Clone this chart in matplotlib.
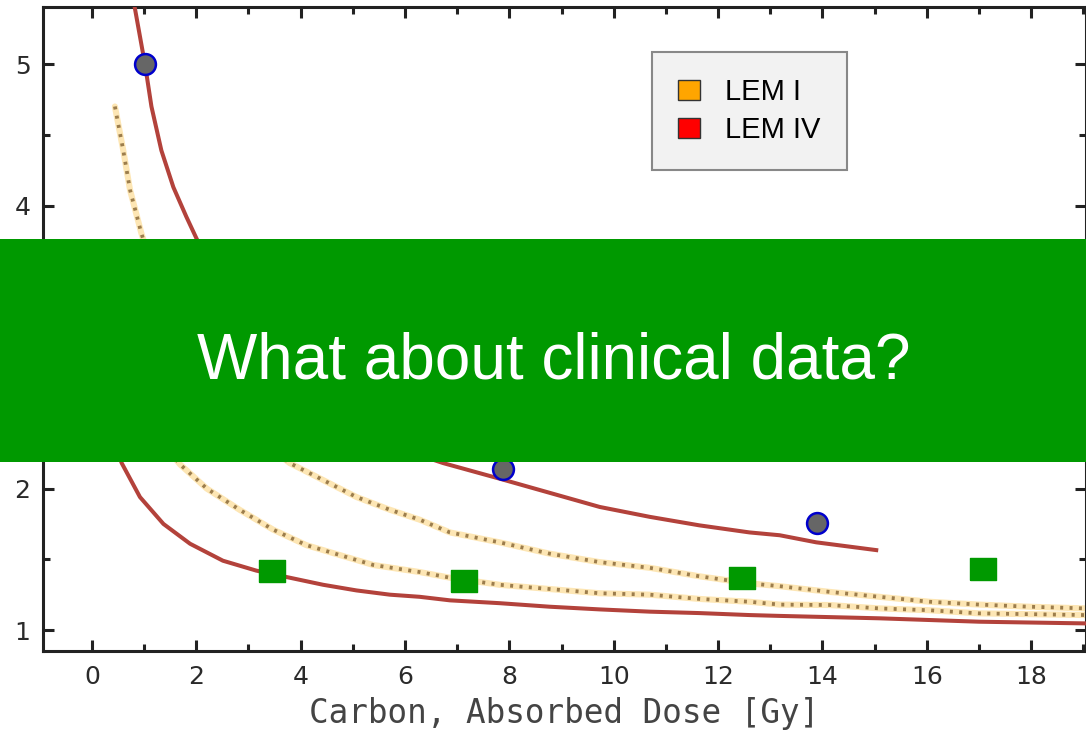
import numpy as np
import matplotlib
matplotlib.use("Agg")
import matplotlib.pyplot as plt
from matplotlib.patches import Patch, Rectangle

# --- Kurven ---
lem4_hi_x = [0.82, 1.02, 1.14, 1.33, 1.56, 1.81, 2.0, 2.5, 3.0, 3.5, 4.0, 4.5, 5.0, 5.5, 6.0,
             6.73, 7.81, 8.77, 9.73, 10.69, 11.64, 12.6, 13.18, 13.88, 15.03]
lem4_hi_y = [5.40, 4.99, 4.70, 4.39, 4.13, 3.92, 3.77, 3.40, 3.12, 2.90, 2.72, 2.57, 2.45, 2.35, 2.27,
             2.18, 2.07, 1.97, 1.87, 1.80, 1.74, 1.69, 1.67, 1.62, 1.565]

lem4_lo_x = [0.2, 0.35, 0.45, 0.57, 0.92, 1.37, 1.88, 2.51, 3.15, 3.79, 4.43, 5.07, 5.71, 6.28,
             6.86, 7.81, 8.77, 9.73, 10.69, 11.64, 12.6, 13.18, 15.09, 17.0, 19.04]
lem4_lo_y = [2.80, 2.45, 2.30, 2.18, 1.94, 1.75, 1.61, 1.49, 1.42, 1.37, 1.32, 1.28, 1.25, 1.235,
             1.21, 1.19, 1.165, 1.146, 1.13, 1.12, 1.106, 1.10, 1.083, 1.059, 1.047]

lem1_hi_x = [0.44, 0.60, 0.73, 0.95, 1.3, 1.7, 2.2, 2.8, 3.3, 3.79, 4.43, 5.07, 5.71, 6.28,
             6.86, 7.81, 8.77, 9.73, 10.69, 11.64, 12.6, 13.18, 14.13, 15.09, 16.05, 17.0, 17.96, 19.04]
lem1_hi_y = [4.70, 4.39, 4.11, 3.80, 3.40, 3.05, 2.75, 2.50, 2.32, 2.18, 2.06, 1.94, 1.85, 1.78,
             1.69, 1.62, 1.54, 1.48, 1.44, 1.38, 1.33, 1.31, 1.27, 1.235, 1.20, 1.18, 1.165, 1.153]

lem1_lo_x = [0.8, 1.1, 1.4, 1.69, 2.20, 2.83, 3.47, 4.11, 4.75, 5.39, 6.28, 6.86, 7.81, 8.77,
             9.73, 10.69, 11.64, 12.6, 13.18, 14.13, 15.09, 16.05, 17.0, 19.04]
lem1_lo_y = [2.72, 2.48, 2.30, 2.17, 2.00, 1.85, 1.71, 1.60, 1.53, 1.46, 1.41, 1.37, 1.32, 1.29,
             1.26, 1.25, 1.22, 1.20, 1.18, 1.177, 1.153, 1.14, 1.118, 1.106]

# --- Messpunkte ---
kreis_x = [1.02, 7.87, 13.89]
kreis_y = [5.00, 2.14, 1.76]

quad_x = [3.45, 7.13, 12.45, 17.07]
quad_y = [1.42, 1.35, 1.37, 1.43]

legende = ["LEM I", "LEM IV"]
legende_farben = ["#ffa500", "#ff0000"]

titel = "What about clinical data?"
x_label = "Carbon, Absorbed Dose [Gy]"

# --- Plot ---
fig = plt.figure(figsize=(10.86, 7.43), dpi=100)
ax = fig.add_axes([43 / 1086, 1 - 651 / 743, 1 - 43 / 1086, (651 - 7) / 743])

rot = "#b3423b"
for xs, ys in [(lem1_lo_x, lem1_lo_y), (lem1_hi_x, lem1_hi_y)]:
    ax.plot(xs, ys, color="#fde6b4", lw=4.4, solid_capstyle="round", zorder=2)
    ax.plot(xs, ys, color="#9c7d4c", lw=2.7, linestyle=(0, (0.8, 1.7)), zorder=3)

ax.plot(lem4_hi_x, lem4_hi_y, color=rot, lw=2.9, zorder=4)
ax.plot(lem4_lo_x, lem4_lo_y, color=rot, lw=2.9, zorder=4)

ax.plot(kreis_x, kreis_y, linestyle="none", marker="o", markersize=15,
        markerfacecolor="#666666", markeredgecolor="#0000cc", markeredgewidth=1.8, zorder=6)

rechteck = [(-1.2, -1), (1.2, -1), (1.2, 1), (-1.2, 1), (-1.2, -1)]
ax.plot(quad_x, quad_y, linestyle="none", marker=rechteck, markersize=19,
        markerfacecolor="#009900", markeredgecolor="#009900", zorder=6)

ax.set_xlim(-0.938, 19.05)
ax.set_ylim(0.852, 5.403)
ax.set_xticks(np.arange(0, 19, 2))
ax.set_xticks(np.arange(1, 20, 2), minor=True)
ax.set_yticks([1, 2, 3, 4, 5])
ax.set_yticks([1.5, 2.5, 3.5, 4.5], minor=True)

ax.tick_params(which="both", direction="in", top=True, right=True,
               color="#222222", width=2.2, labelsize=18, labelcolor="#2a2a2a")
ax.tick_params(which="major", length=8)
ax.tick_params(which="minor", length=5)
ax.tick_params(axis="x", pad=10)
ax.tick_params(axis="y", pad=9)
for s in ax.spines.values():
    s.set_linewidth(2.2)
    s.set_color("#222222")

ax.set_xlabel(x_label, fontsize=23.5, family="DejaVu Sans Mono", color="#444444", labelpad=6)

# Legende
handles = [Patch(facecolor=c, edgecolor="#333333", linewidth=1) for c in legende_farben]
leg = ax.legend(handles, legende, loc="upper left",
                bbox_to_anchor=(652 / 1086, 1 - 52 / 743), bbox_transform=fig.transFigure,
                prop={"family": "Liberation Sans", "size": 21},
                fancybox=False, framealpha=1, facecolor="#f2f2f2", edgecolor="#888888",
                handlelength=0.75, handleheight=0.65, handletextpad=0.85,
                labelspacing=0.34, borderpad=0.9, borderaxespad=0)
leg.get_frame().set_linewidth(1.5)

# gruener Balken mit Frage
fig.patches.append(Rectangle((0, 1 - 462 / 743), 1, 223 / 743, transform=fig.transFigure,
                             facecolor="#009900", edgecolor="none", zorder=10))
fig.text(553.5 / 1086, 1 - 362 / 743, titel, ha="center", va="center", color="white",
         family="Liberation Sans", fontsize=46, zorder=11)

fig.savefig("out.png", dpi=100)
